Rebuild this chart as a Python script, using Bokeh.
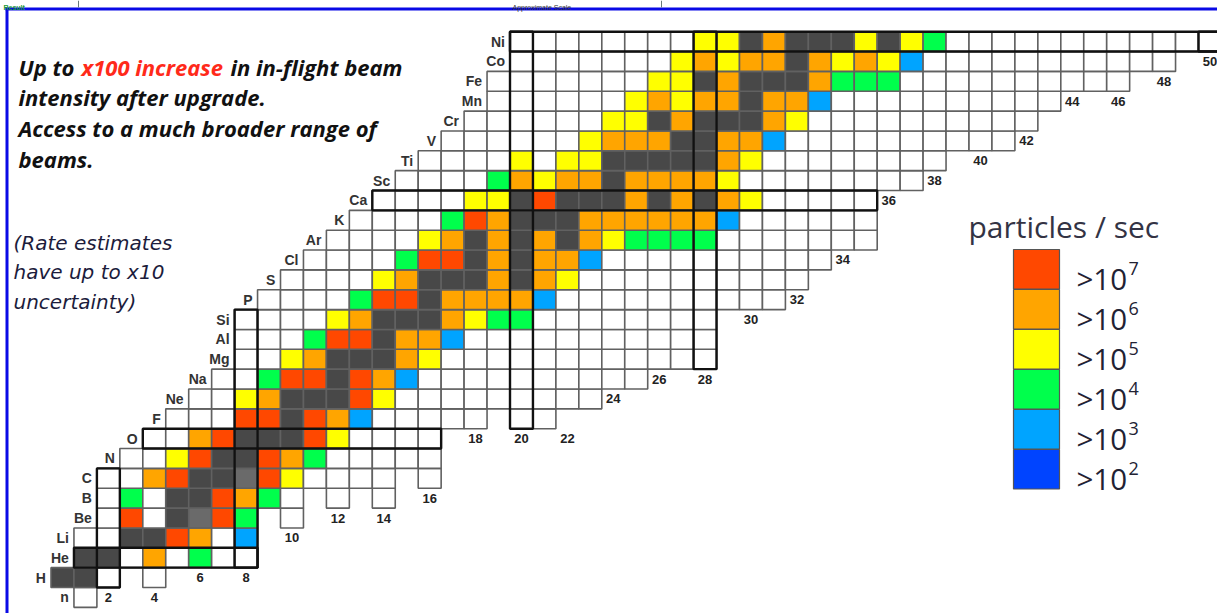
from bokeh.plotting import figure
from bokeh.models import Range1d, Label, ColumnDataSource
from bokeh.embed import file_html
from bokeh.resources import INLINE
from bokeh.core.properties import value

# ---------------- data ----------------
ELEMENTS = ["n", "H", "He", "Li", "Be", "B", "C", "N", "O", "F", "Ne", "Na", "Mg", "Al", "Si",
            "P", "S", "Cl", "Ar", "K", "Ca", "Sc", "Ti", "V", "Cr", "Mn", "Fe", "Co", "Ni"]
FIRST_N = [1, 0, 1, 1, 2, 2, 2, 3, 4, 5, 6, 7, 8, 8, 8, 9, 10, 11, 12, 13, 14, 15, 16, 17, 18,
           19, 19, 20, 20]
# one character per isotope, starting at FIRST_N; '.' = no isotope drawn
# D stable, G long-lived, R >1e7, O >1e6, Y >1e5, g >1e4, b >1e3, B >1e2, W known (no beam)
RATES = [
    "W",
    "DDW.W",
    "DDWOWgWW",
    "WWDDROWb",
    "WRWDGRg.W",
    "WgWDDROgW.W.W",
    "WWORDDGRYWWWW.W",
    "WWYRDDROgWWWWW",
    "WWORDDDRYWWWW",
    "WWWRRDRObWWWWW.WW",
    "WWYODDDRY" + "WWWWWWWWW",
    "WWgRRDROb" + "WWWWWWWWWW",
    "WWYODDDOY" + "WWWWWWWWWWWW",
    "WWWgRRDOOb" + "WWWWWWWWWWW",
    "WWWWYODDDOYgg" + "WWWWWWWW",
    "WWWWgRRDOOOOb" + "WWWWWWWWWW",
    "WWWWYODDDODOY" + "WWWWWWWWWW",
    "WWWWgRRDODOOb" + "WWWWWWWWWW",
    "WWWWYODODODOYgggg" + "WWWWWWW",
    "WWWWgRODDDOOOOOOb" + "WWWWWW",
    "WWWWYYDRDDDODODOY" + "WWWWW",
    "WWWWgOYOODOOOOY" + "WWWWWWWW",
    "WWWWYWYYDDDDDOY" + "WWWWWWWW",
    "WWWWWWYOOODDOOb" + "WWWWWWWWWW",
    "WWWWWWYYDODDDOY" + "WWWWWWWWWW",
    "WWWWWWYOYOODOOb" + "WWWWWWWWWW",
    "WWWWWWWYYDODDDOggg" + "WWWWWWWWWW",
    "WWWWWWWYOYOODOYOYb" + "WWWWWWWWWWW",
    "WWWWWWWWYYDODDDYDYg" + "WWWWWWWWWWWWW",
]
MAGIC_Z = [2, 8, 20, 28]
MAGIC_N = [2, 8, 20, 28, 50]
N_TICKS = [2, 4, 6, 8, 10, 12, 14, 16, 18, 20, 22, 24, 26, 28, 30, 32, 34, 36, 38, 40, 42, 44, 46, 48, 50]
N_TICK_ROW = [0, 0, 1, 1, 3, 4, 4, 5, 8, 8, 8, 10, 11, 11, 14, 15, 17, 20, 21, 22, 23, 25, 25, 26, 27]
LEGEND_CODES = ["R", "O", "Y", "g", "b", "B"]
LEGEND_EXP = ["7", "6", "5", "4", "3", "2"]

COLORS = {"D": "#484848", "G": "#6a6a6a", "R": "#ff4800", "O": "#ffa500", "Y": "#ffff00",
          "g": "#00ff4c", "b": "#00a4ff", "B": "#0044ff", "W": "#ffffff"}

# ---------------- geometry (reference pixels -> data) ----------------
W_PX, H_PX = 1217, 613
def dx(px):
    return (px - 61.975) / 22.95
def dy(py):
    return (596.925 - py) / 19.85

p = figure(width=W_PX, height=H_PX, x_range=Range1d(dx(0), dx(W_PX)),
           y_range=Range1d(dy(H_PX), dy(0)), output_backend="svg",
           toolbar_location=None, min_border=0, x_axis_location=None, y_axis_location=None)
p.grid.visible = False
p.outline_line_color = None
p.background_fill_color = "white"
p.border_fill_color = "white"

# ---------------- cells ----------------
xs, ys, cols = [], [], []
for z, (n0, codes) in enumerate(zip(FIRST_N, RATES)):
    for k, c in enumerate(codes):
        if c == ".":
            continue
        xs.append(n0 + k)
        ys.append(z)
        cols.append(COLORS[c])
src = ColumnDataSource(dict(N=xs, Z=ys, color=cols))
p.rect(x="N", y="Z", width=1, height=1, source=src, fill_color="color",
       line_color="#616161", line_width=1.6)

# magic-number outlines
ql, qr, qt, qb = [], [], [], []
for zm in MAGIC_Z:
    ns = [n for n, z in zip(xs, ys) if z == zm]
    ql.append(min(ns) - 0.5); qr.append(max(ns) + 0.5); qb.append(zm - 0.5); qt.append(zm + 0.5)
for nm in MAGIC_N:
    zs = [z for n, z in zip(xs, ys) if n == nm]
    ql.append(nm - 0.5); qr.append(nm + 0.5); qb.append(min(zs) - 0.5); qt.append(max(zs) + 0.5)
p.quad(left=ql, right=qr, top=qt, bottom=qb, fill_color=None, line_color="#111111", line_width=2.4)

# element symbols
p.text(x=[n0 - 0.72 for n0 in FIRST_N], y=list(range(len(ELEMENTS))), text=ELEMENTS,
       text_align="right", text_baseline="middle", text_font=value("Liberation Sans"),
       text_font_style="bold", text_font_size="14px", text_color="#333333")
# neutron numbers
p.text(x=N_TICKS, y=N_TICK_ROW, text=[str(n) for n in N_TICKS], text_align="center",
       text_baseline="middle", text_font=value("Liberation Sans"), text_font_style="bold",
       text_font_size="13px", text_color="#222222")

# blue frame and thin page strip above it
p.segment(x0=[dx(6.5), dx(5)], y0=[dy(7), dy(8.5)], x1=[dx(6.5), dx(1217)], y1=[dy(613), dy(8.5)],
          line_color="#0a0ae6", line_width=3)
p.segment(x0=[dx(661), dx(78)], y0=[dy(0), dy(0)], x1=[dx(661), dx(78)], y1=[dy(7), dy(7)],
          line_color="#6a7a7a", line_width=1)

def lab(text, px, py, size, color, font, style="normal", align="left"):
    p.add_layout(Label(x=dx(px), y=dy(py), text=text, text_font=font, text_font_size=size,
                       text_color=color, text_font_style=style, text_align=align,
                       text_baseline="alphabetic"))

lab("Approximate Scale", 512, 6.5, "7px", "#333333", "Liberation Sans")
lab("Result", 3, 6.5, "7px", "#1a9a3a", "Liberation Sans", "bold")

# headline
HF = "Open Sans"
lab("Up to", 18, 66.7, "22px", "#111111", HF, "bold italic")
lab("x100 increase", 81, 66.7, "22px", "#ff2a1a", HF, "bold italic")
lab("in in-flight beam", 230, 66.7, "22px", "#111111", HF, "bold italic")
lab("intensity after upgrade.", 18, 96.7, "22px", "#111111", HF, "bold italic")
lab("Access to a much broader range of", 18, 127.3, "22px", "#111111", HF, "bold italic")
lab("beams.", 18, 158.3, "22px", "#111111", HF, "bold italic")

# note
NF = "DejaVu Sans"
lab("(Rate estimates", 13, 242.7, "20px", "#1c1c3c", NF, "italic")
lab("have up to x10", 13, 271.7, "20px", "#1c1c3c", NF, "italic")
lab("uncertainty)", 13, 301.7, "20px", "#1c1c3c", NF, "italic")

# legend
LF = "Open Sans"
lab("particles / sec", 968, 226, "30px", "#333344", LF)
for i, code in enumerate(LEGEND_CODES):
    top = 249 + 40 * i
    p.quad(left=dx(1013), right=dx(1059), top=dy(top), bottom=dy(top + 39.5),
           fill_color=COLORS[code], line_color="#555555", line_width=1.2)
    lab(">10", 1076, 278.3 + 40 * i, "29.5px", "#222233", LF)
    lab(LEGEND_EXP[i], 1128, 268.3 + 40 * i, "18px", "#222233", LF)

open("out.html", "w").write(file_html(p, INLINE))
